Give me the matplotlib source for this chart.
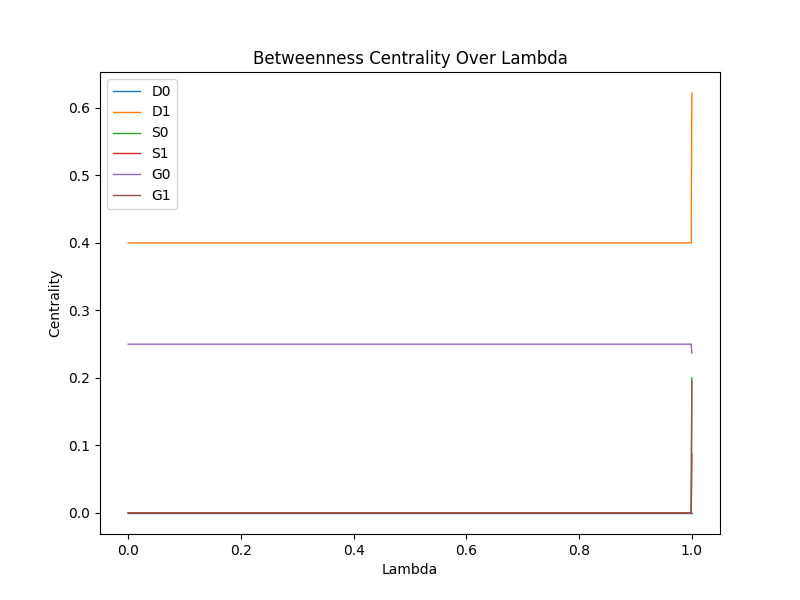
import matplotlib
matplotlib.use('Agg')
import matplotlib.pyplot as plt

# lambda samples
lambdas = [0.0, 0.1, 0.2, 0.3, 0.4, 0.5, 0.6, 0.7, 0.8, 0.9, 0.99, 0.998, 0.999, 1.0]

# betweenness centrality per node
D0 = [0.0] * 13 + [0.0]
D1 = [0.4] * 13 + [0.622]
S0 = [0.0] * 13 + [0.2]
S1 = [0.0] * 13 + [0.087]
G0 = [0.25] * 13 + [0.237]
G1 = [0.0] * 13 + [0.195]

series = {'D0': D0, 'D1': D1, 'S0': S0, 'S1': S1, 'G0': G0, 'G1': G1}

plt.figure(figsize=(8, 6), dpi=100)
for name, vals in series.items():
    plt.plot(lambdas, vals, label=name, linewidth=1)
plt.xlabel('Lambda')
plt.ylabel('Centrality')
plt.title('Betweenness Centrality Over Lambda')
plt.legend(loc='upper left')
plt.savefig('out.png')
